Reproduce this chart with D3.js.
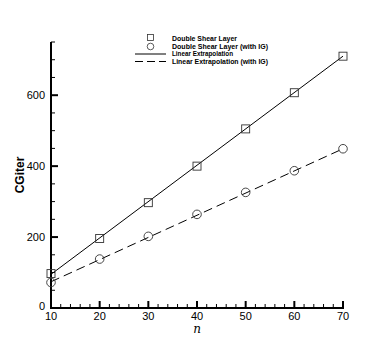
<!DOCTYPE html>
<html><head><meta charset="utf-8">
<script src="https://cdn.jsdelivr.net/npm/d3@7"></script>
<style>body{margin:0;background:#fff}svg{display:block}</style>
</head><body>
<svg id="c" width="390" height="347"></svg>
<script>
const nValues = [10, 20, 30, 40, 50, 60, 70];
const dslIter = [97, 196, 297, 400, 505, 607, 710];
const dslIgIter = [72, 138, 202, 264, 326, 387, 449];
const extrapN = [10, 70];
const extrapLine = [95, 710];
const extrapIgLine = [74, 449];
const xTicks = [10, 20, 30, 40, 50, 60, 70];
const yTicks = [0, 200, 400, 600];
const legendLabels = ["Double Shear Layer", "Double Shear Layer  (with IG)", "Linear Extrapolation", "Linear Extrapolation (with IG)"];

const svg = d3.select("#c");
const x = d3.scaleLinear().domain([10, 70]).range([51, 343]);
const y = d3.scaleLinear().domain([0, 750]).range([308, 42]);
const font = "'Liberation Sans', Arial, sans-serif";

// minor ticks
const xMinor = d3.range(10, 70.01, 2).filter(v => v % 10 !== 0);
const yMinor = d3.range(0, 750.01, 50).filter(v => v % 200 !== 0);
svg.append("g").selectAll("line").data(xMinor).join("line")
  .attr("x1", d => x(d)).attr("x2", d => x(d)).attr("y1", 308).attr("y2", 304)
  .attr("stroke", "#000").attr("stroke-width", 1);
svg.append("g").selectAll("line").data(yMinor).join("line")
  .attr("y1", d => y(d)).attr("y2", d => y(d)).attr("x1", 51).attr("x2", 55)
  .attr("stroke", "#000").attr("stroke-width", 1);
// major ticks
svg.append("g").selectAll("line").data(xTicks).join("line")
  .attr("x1", d => x(d)).attr("x2", d => x(d)).attr("y1", 308).attr("y2", 301)
  .attr("stroke", "#000").attr("stroke-width", 2);
svg.append("g").selectAll("line").data(yTicks).join("line")
  .attr("y1", d => y(d)).attr("y2", d => y(d)).attr("x1", 51).attr("x2", 58)
  .attr("stroke", "#000").attr("stroke-width", 2);
// axis lines
svg.append("line").attr("x1", 51).attr("x2", 344).attr("y1", 308).attr("y2", 308).attr("stroke", "#000").attr("stroke-width", 2);
svg.append("line").attr("x1", 51).attr("x2", 51).attr("y1", 42).attr("y2", 309).attr("stroke", "#000").attr("stroke-width", 2);

// tick labels
svg.append("g").selectAll("text").data(xTicks).join("text")
  .attr("x", d => x(d)).attr("y", 320).attr("text-anchor", "middle")
  .attr("font-family", font).attr("font-size", 11).text(d => d);
svg.append("g").selectAll("text").data(yTicks).join("text")
  .attr("x", 45).attr("y", d => y(d) + 4 - (d === 0 ? 2 : 0)).attr("text-anchor", "end")
  .attr("font-family", font).attr("font-size", 11).text(d => d);

// axis titles
svg.append("text").attr("transform", "translate(24,175) rotate(-90)").attr("text-anchor", "middle")
  .attr("font-family", font).attr("font-size", 12).attr("font-weight", "bold").text("CGiter");
svg.append("text").attr("x", 197).attr("y", 333).attr("text-anchor", "middle")
  .attr("font-family", "'DejaVu Serif', serif").attr("font-size", 12).attr("font-style", "italic").text("n");

// lines
const ln = d3.line().x(d => x(d[0])).y(d => y(d[1]));
svg.append("path").attr("d", ln(extrapN.map((n, i) => [n, extrapLine[i]])))
  .attr("fill", "none").attr("stroke", "#000").attr("stroke-width", 1);
svg.append("path").attr("d", ln(extrapN.map((n, i) => [n, extrapIgLine[i]])))
  .attr("fill", "none").attr("stroke", "#000").attr("stroke-width", 1).attr("stroke-dasharray", "9,5");

// markers
svg.append("g").selectAll("rect").data(nValues).join("rect")
  .attr("x", d => x(d) - 4).attr("y", (d, i) => y(dslIter[i]) - 4).attr("width", 8).attr("height", 8)
  .attr("fill", "none").attr("stroke", "#333").attr("stroke-width", 0.9);
svg.append("g").selectAll("circle").data(nValues).join("circle")
  .attr("cx", d => x(d)).attr("cy", (d, i) => y(dslIgIter[i])).attr("r", 4.3)
  .attr("fill", "none").attr("stroke", "#333").attr("stroke-width", 0.9);

// legend
const lg = svg.append("g");
lg.append("rect").attr("x", 147.5).attr("y", 34.5).attr("width", 6).attr("height", 6).attr("fill", "none").attr("stroke", "#333").attr("stroke-width", 0.8);
lg.append("circle").attr("cx", 150.5).attr("cy", 46.5).attr("r", 3.3).attr("fill", "none").attr("stroke", "#333").attr("stroke-width", 0.8);
lg.append("line").attr("x1", 135).attr("x2", 166).attr("y1", 54).attr("y2", 54).attr("stroke", "#000").attr("stroke-width", 1);
lg.append("line").attr("x1", 135).attr("x2", 166).attr("y1", 61.5).attr("y2", 61.5).attr("stroke", "#000").attr("stroke-width", 1).attr("stroke-dasharray", "8,4");
lg.selectAll("text").data(legendLabels).join("text")
  .attr("x", 172).attr("y", (d, i) => 41 + i * 7.5)
  .attr("font-family", font).attr("font-size", 7.6).attr("font-weight", "bold")
  .attr("textLength", (d, i) => [65, 96, 61, 96][i]).attr("lengthAdjust", "spacingAndGlyphs")
  .text(d => d);
</script>
</body></html>
